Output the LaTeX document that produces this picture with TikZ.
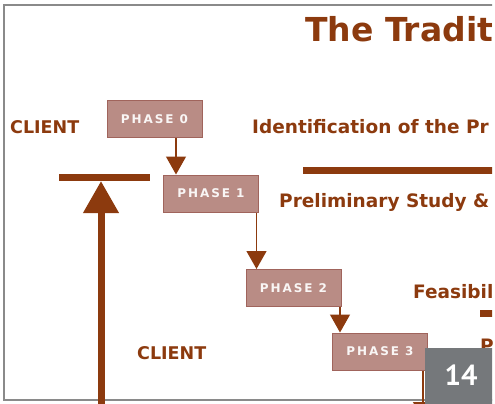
\documentclass[tikz,border=0pt]{standalone}
\usepackage{fontspec}
\setmainfont{DejaVu Sans}
\newfontfamily\phasefont[LetterSpace=16]{DejaVu Sans}
\newfontfamily\badgefont{PT Sans}
\usetikzlibrary{arrows.meta}
\definecolor{rust}{RGB}{140,58,14}
\definecolor{boxfill}{RGB}{185,140,133}
\definecolor{boxline}{RGB}{160,100,92}
\definecolor{badge}{RGB}{117,120,123}
\definecolor{frame}{RGB}{138,138,138}

\begin{document}
\begin{tikzpicture}[
  x=1pt, y=-1pt,
  phase/.style={draw=boxline, line width=1pt, fill=boxfill, minimum width=95pt,
    minimum height=37pt, inner sep=0pt, text=white!92!boxfill,
    font=\phasefont\bfseries\fontsize{12}{12}\selectfont},
  label/.style={anchor=base west, inner sep=0pt, text=rust,
    font=\bfseries\fontsize{18.5}{18.5}\selectfont},
  flow/.style={draw=rust, line width=1.3pt, -{Triangle[length=18pt,width=20pt]}},
  bar/.style={draw=rust, line width=7pt}
]
  \useasboundingbox (0,0) rectangle (495,404);
  \begin{scope}
    \clip (0,0) rectangle (492,404);
    \draw[frame, line width=2pt] (4,5) rectangle (520,400);

    \node[label, font=\bfseries\fontsize{33}{33}\selectfont] (title) at (305,42) {The Tradit};

    % phases
    \node[phase] (phase0) at (154.5,119) {PHASE 0};
    \node[phase] (phase1) at (211,193.5) {PHASE 1};
    \node[phase] (phase2) at (293.5,288) {PHASE 2};
    \node[phase] (phase3) at (380,351.5) {PHASE 3};
    \coordinate (phase4) at (423,420);

    \draw[flow] ([xshift=13pt]phase1.north west |- phase0.south) -- ([xshift=13pt]phase1.north west);
    \draw[flow] ([xshift=11pt]phase2.north west |- phase1.south) -- ([xshift=11pt]phase2.north west);
    \draw[flow] ([xshift=8pt]phase3.north west |- phase2.south) -- ([xshift=8pt]phase3.north west);
    \draw[flow] (phase3.south -| phase4) -- (phase4);

    % labels
    \node[label, font=\bfseries\fontsize{17.5}{17.5}\selectfont] (client0) at (10,133) {CLIENT};
    \node[label, font=\bfseries\fontsize{17.5}{17.5}\selectfont] (client1) at (137,359) {CLIENT};
    \node[label] (ident) at (252,133) {Identification of the Pr};
    \node[label] (study) at (279,207) {Preliminary Study \&};
    \node[label] (feas) at (413,298) {Feasibil};
    \node[label] (next) at (480,352) {Pr};

    % bars
    \draw[bar] (303,170) -- (500,170);
    \draw[bar] (480,313) -- (500,313);
    \coordinate (bar0) at (101,181);
    \coordinate (base0) at (101,410);
    \draw[bar] (59,177) -- (150,177);
    \draw[bar, -{Triangle[length=32pt,width=34pt]}] (base0) -- (bar0);

    % page number
    \fill[badge] (425,348) rectangle (500,410);
    \node[text=white, font=\badgefont\bfseries\fontsize{29}{29}\selectfont] (page) at (461,375) {14};
  \end{scope}
\end{tikzpicture}
\end{document}
